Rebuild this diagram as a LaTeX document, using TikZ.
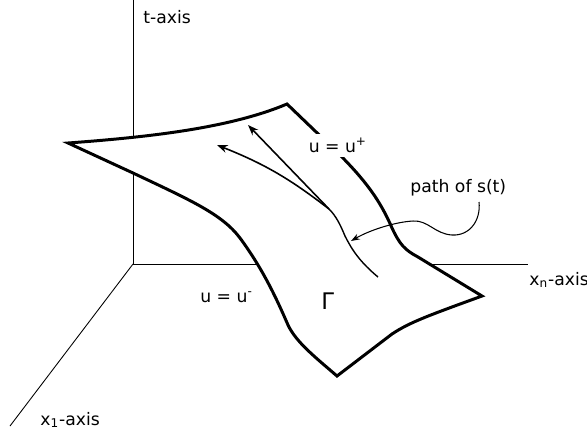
\documentclass[tikz,border=0pt]{standalone}
\usepackage{fontspec}
\setmainfont{DejaVu Sans}
\usetikzlibrary{arrows.meta}

\tikzset{
  axis/.style={line width=0.5pt},
  rim/.style={line width=1.7pt, line join=miter},
  track/.style={line width=0.8pt},
  arr/.style={line width=0.9pt, -{Stealth[length=6pt,width=4.5pt]}},
  note/.style={line width=0.6pt, -{Stealth[length=5pt,width=3.5pt]}},
}

\begin{document}
\begin{tikzpicture}[x=0.02cm,y=-0.02cm,inner sep=0pt,font=\fontsize{9.8}{12}\selectfont]
\useasboundingbox (0,0) rectangle (587,437);
% axes
\coordinate (o) at (133,264);
\coordinate (t) at (133,0);
\coordinate (xn) at (528,264);
\coordinate (x1) at (10,426);
\draw[axis] (o) -- (t);
\draw[axis] (o) -- (xn);
\draw[axis] (o) -- (x1);
\node[anchor=base west] (tlab) at (143,23) {t-axis};
\node[anchor=base west] (xnlab) at (529,285) {x\textsubscript{n}-axis};
\node[anchor=base west] (x1lab) at (40,425) {x\textsubscript{1}-axis};

% the surface
\coordinate (a) at (68,143);
\coordinate (b) at (287,104);
\coordinate (c) at (482,296);
\coordinate (d) at (337,376);
\draw[rim,fill=white] (a) .. controls (150,137) and (230,128) .. (b)
  -- (338,153) .. controls (365,180) and (380,200) .. (392,228)
  .. controls (400,245) and (405,250) .. (418,257) -- (c)
  .. controls (430,315) and (410,322) .. (392,334) -- (d)
  .. controls (315,357) and (296,342) .. (288,325)
  .. controls (275,295) and (262,268) .. (240,238)
  .. controls (222,214) and (190,200) .. (133,173) -- cycle;
\node[anchor=base west,fill=white,inner sep=2.5pt] (uplus) at (304,152) {u = u\textsuperscript{+}};
\node[anchor=base west] (uminus) at (200,302) {u = u\textsuperscript{-}};
\node[anchor=base west,font=\fontsize{13}{15}\selectfont] (gamma) at (321,309) {Γ};

% path of s(t)
\coordinate (s0) at (378,277);
\coordinate (j) at (329,209);
\coordinate (s1) at (248,125);
\coordinate (s2) at (217,145);
\draw[track] (s0) .. controls (360,262) and (352,250) .. (345,236)
  .. controls (340,224) and (336,216) .. (j);
\draw[arr] (j) -- (s1);
\draw[arr] (j) to[bend right=8] (s2);

\node[anchor=base west] (pathlab) at (410,192) {path of s(t)};
\coordinate (n0) at (479,202);
\coordinate (n1) at (351,241);
\draw[note] (n0) .. controls (481,220) and (470,236) .. (452,235)
  .. controls (435,234) and (428,220) .. (413,221)
  .. controls (395,222) and (370,230) .. (n1);
\end{tikzpicture}
\end{document}
